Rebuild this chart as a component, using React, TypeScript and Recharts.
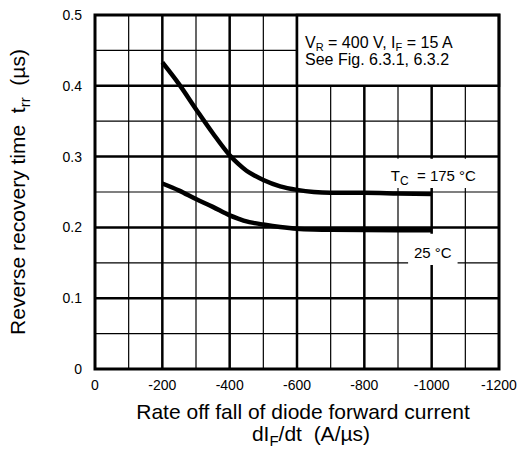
import React from 'react';
import { LineChart, Line, XAxis, YAxis, CartesianGrid, ReferenceArea } from 'recharts';

const xTicks = [0, -200, -400, -600, -800, -1000, -1200];
const yTicks = [0, 0.1, 0.2, 0.3, 0.4, 0.5];
const xMinor = [-100, -300, -500, -700, -900, -1100];
const xMajor = [-200, -400, -600, -800, -1000];
const yMinor = [0.05, 0.15, 0.25, 0.35, 0.45];
const yMajor = [0.1, 0.2, 0.3, 0.4];

// dIF/dt (A/µs)
const rates = [-200, -250, -300, -350, -400, -425, -450, -475, -500, -550, -600, -650, -700, -800, -900, -1000];
// trr (µs) at Tc = 175 °C
const trr175 = [0.433, 0.402, 0.367, 0.333, 0.302, 0.29, 0.28, 0.273, 0.267, 0.258, 0.253, 0.25, 0.249, 0.249, 0.248, 0.247];
// trr (µs) at 25 °C
const trr25 = [0.262, 0.252, 0.24, 0.229, 0.217, 0.2125, 0.2085, 0.206, 0.204, 0.2005, 0.198, 0.197, 0.1967, 0.1962, 0.196, 0.196];

const data = rates.map((x, i) => ({ x, hot: trr175[i], cold: trr25[i] }));

const FONT = '"Liberation Sans", Arial, sans-serif';
const SP = '\u00a0';

const XTitle = (props: any) => {
  const { x, y, width } = props.viewBox;
  const cx = x + width / 2 + 6;
  return (
    <g fontFamily={FONT} fontSize={21} fill="#000">
      <text x={cx} y={y + 50} textAnchor="middle">Rate off fall of diode forward current</text>
      <text x={cx + 8} y={y + 72} textAnchor="middle">
        dI<tspan fontSize={15} dy={5}>F</tspan>
        <tspan dy={-5}>{`/dt${SP}${SP}(A/µs)`}</tspan>
      </text>
    </g>
  );
};

const YTitle = (props: any) => {
  const { y, height } = props.viewBox;
  const cy = y + height / 2;
  return (
    <text
      x={25}
      y={cy}
      transform={`rotate(-90, 25, ${cy})`}
      textAnchor="middle"
      fontFamily={FONT}
      fontSize={21}
      fill="#000"
    >
      {`Reverse recovery time${SP}${SP}t`}
      <tspan fontSize={15} dy={5}>rr</tspan>
      <tspan dy={-5}>{`${SP}${SP}(µs)`}</tspan>
    </text>
  );
};

const InfoText = (props: any) => {
  const { x, y } = props.viewBox;
  return (
    <g fontFamily={FONT} fontSize={16} fill="#000">
      <text x={x + 8} y={y + 33}>
        V<tspan fontSize={11} dy={3}>R</tspan>
        <tspan dy={-3}> = 400 V, I</tspan>
        <tspan fontSize={11} dy={3}>F</tspan>
        <tspan dy={-3}> = 15 A</tspan>
      </text>
      <text x={x + 8} y={y + 50}>See Fig. 6.3.1, 6.3.2</text>
    </g>
  );
};

const HotLabel = (props: any) => {
  const { x, y } = props.viewBox;
  return (
    <text x={x + 13} y={y + 22} fontFamily={FONT} fontSize={15} fill="#000">
      T<tspan fontSize={12} dy={4}>C</tspan>
      <tspan dy={-4}>{`${SP}${SP}= 175 °C`}</tspan>
    </text>
  );
};

const ColdLabel = (props: any) => {
  const { x, y, width } = props.viewBox;
  return (
    <text x={x + width / 2} y={y + 24} textAnchor="middle" fontFamily={FONT} fontSize={15} fill="#000">
      25 °C
    </text>
  );
};

export default function App() {
  return (
    <div style={{ position: 'absolute', left: 0, top: 0, background: '#fff' }}>
      <LineChart width={519} height={453} data={data} margin={{ top: 15, right: 20, bottom: 0, left: 0 }}>
        <CartesianGrid stroke="#000" strokeWidth={1.2} verticalValues={xMinor} horizontalValues={yMinor} />
        <CartesianGrid stroke="#000" strokeWidth={2.5} verticalValues={xMajor} horizontalValues={yMajor} />
        <XAxis
          dataKey="x"
          type="number"
          domain={[-1200, 0]}
          reversed
          ticks={xTicks}
          height={84}
          axisLine={false}
          tickLine={false}
          tickMargin={5}
          tick={{ fontSize: 14, fill: '#000', fontFamily: FONT }}
          label={XTitle}
        />
        <YAxis
          type="number"
          domain={[0, 0.5]}
          ticks={yTicks}
          width={95}
          axisLine={false}
          tickLine={false}
          tickMargin={7}
          tick={{ fontSize: 14, fill: '#000', fontFamily: FONT }}
          label={YTitle}
        />
        <ReferenceArea x1={-600} x2={-1200} y1={0.4} y2={0.5} fill="#fff" fillOpacity={1} stroke="#000" strokeWidth={2.5} label={InfoText} />
        <ReferenceArea x1={-840} x2={-1200} y1={0.2555} y2={0.297} fill="#fff" fillOpacity={1} stroke="none" label={HotLabel} />
        <ReferenceArea x1={-930} x2={-1077} y1={0.147} y2={0.191} fill="#fff" fillOpacity={1} stroke="none" label={ColdLabel} />
        <ReferenceArea x1={0} x2={-1200} y1={0} y2={0.5} fill="none" stroke="#000" strokeWidth={3} />
        <Line dataKey="hot" type="monotone" stroke="#000" strokeWidth={4.5} dot={false} isAnimationActive={false} />
        <Line dataKey="cold" type="monotone" stroke="#000" strokeWidth={4.5} dot={false} isAnimationActive={false} />
      </LineChart>
    </div>
  );
}
